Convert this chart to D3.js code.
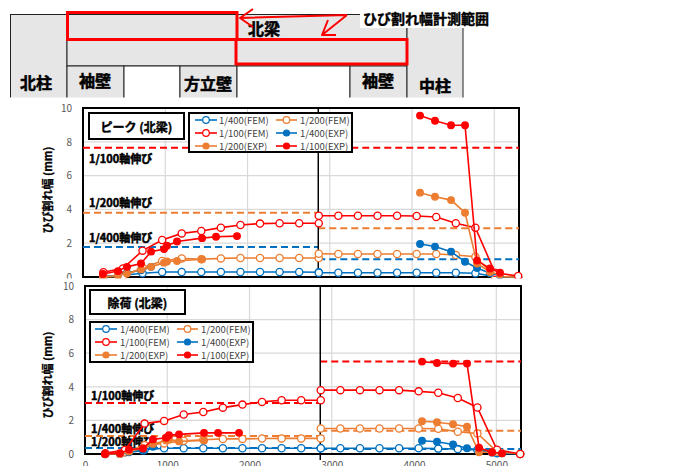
<!DOCTYPE html>
<html>
<head>
<meta charset="utf-8">
<script src="https://cdn.jsdelivr.net/npm/d3@7"></script>
<style>
  body { margin: 0; background: #fff; }
  svg { display: block; }
  text { font-family: "Noto Sans CJK JP", "Liberation Sans", sans-serif; }
</style>
</head>
<body>
<svg id="chart" width="700" height="466"></svg>
<script>
"use strict";

// Ejes
const xDomain = [0, 5300];
const xTicks = [0, 1000, 2000, 3000, 4000, 5000];
const yTicks = [0, 2, 4, 6, 8, 10];
const splitX = 2860;

// Series (orden de la leyenda)
const legendNames = ["1/400(FEM)", "1/200(FEM)", "1/100(FEM)", "1/400(EXP)", "1/200(EXP)", "1/100(EXP)"];
const seriesColors = ["#0070C0", "#ED7D31", "#FF0000", "#0070C0", "#ED7D31", "#FF0000"];
const seriesOpen = [true, true, true, false, false, false];

// Posiciones x (mm)
const xFemL = [248, 486, 724, 962, 1200, 1438, 1676, 1914, 2152, 2390, 2628, 2866];
const xFemR = [2866, 3104, 3342, 3580, 3818, 4056, 4294, 4532, 4770, 5008, 5290];
const xExpL = [243, 425, 535, 705, 827, 985, 1021, 1143, 1447, 1617, 1872];
const xExpR = [4097, 4279, 4474, 4644, 4790, 4948, 5069];

// ピーク
const peakFem400L = [0.02, 0.1, 0.22, 0.3, 0.3, 0.3, 0.3, 0.3, 0.3, 0.3, 0.3, 0.28];
const peakFem400R = [0.25, 0.25, 0.25, 0.25, 0.25, 0.25, 0.25, 0.25, 0.22, 0.02, 0.0];
const peakFem200L = [0.0, 0.05, 0.55, 0.95, 1.1, 1.05, 1.1, 1.12, 1.12, 1.12, 1.12, 1.12];
const peakFem200R = [1.38, 1.36, 1.36, 1.36, 1.36, 1.36, 1.36, 1.3, 1.2, 0.02, 0.0];
const peakFem100L = [0.28, 0.51, 1.56, 2.19, 2.58, 2.72, 2.92, 3.08, 3.16, 3.18, 3.18, 3.18];
const peakFem100R = [3.62, 3.62, 3.62, 3.62, 3.62, 3.61, 3.55, 3.18, 2.92, 0.25, 0.06];
const peakExp400L = [0.0, 0.1, 0.25, 0.4, 0.6];
const peakExp400R = [1.95, 1.8, 1.5, 0.9, 0.53, 0.22, 0.1];
const peakExp200L = [0.0, 0.1, 0.2, 0.45, 0.6, 0.85, 0.92, 0.95, 1.05];
const peakExp200R = [4.99, 4.75, 4.55, 3.8, 0.8, 0.3, 0.15];
const peakExp100L = [0.18, 0.35, 0.6, 0.8, 1.5, 1.65, 1.85, 2.1, 2.3, 2.38, 2.42];
const peakExp100R = [9.55, 9.25, 8.98, 8.98, 0.97, 0.5, 0.25];

// 除荷
const unloadFem400L = [0.0, 0.1, 0.25, 0.34, 0.34, 0.34, 0.34, 0.34, 0.34, 0.34, 0.34, 0.34];
const unloadFem400R = [0.34, 0.34, 0.34, 0.34, 0.34, 0.34, 0.32, 0.3, 0.24, 0.05, 0.0];
const unloadFem200L = [0.0, 0.1, 0.53, 0.63, 0.79, 0.85, 0.9, 0.9, 0.92, 0.93, 0.93, 0.93];
const unloadFem200R = [1.52, 1.52, 1.52, 1.52, 1.52, 1.52, 1.5, 1.32, 1.22, 0.14, 0.0];
const unloadFem100L = [0.05, 0.24, 1.81, 1.97, 2.35, 2.5, 2.76, 2.94, 3.1, 3.2, 3.2, 3.2];
const unloadFem100R = [3.8, 3.8, 3.8, 3.8, 3.8, 3.73, 3.65, 3.33, 2.77, 0.25, 0.0];
const unloadExp400L = [0.0, 0.0, 0.1, 0.2, 0.43];
const unloadExp400R = [0.79, 0.73, 0.57, 0.34, 0.24, 0.08, 0.04];
const unloadExp200L = [0.0, 0.0, 0.15, 0.35, 0.6, 0.8, 0.87, 0.75, 0.8];
const unloadExp200R = [1.95, 1.89, 1.77, 1.62, 0.1, 0.1, 0.05];
const unloadExp100L = [0.0, 0.05, 0.27, 0.33, 0.87, 0.97, 1.12, 1.17, 1.26, 1.26, 1.26];
const unloadExp100R = [5.5, 5.42, 5.38, 5.38, 0.37, 0.1, 0.04];

// 軸伸び (1/400, 1/200, 1/100)
const limitNames = ["1/400軸伸び", "1/200軸伸び", "1/100軸伸び"];
const limitColors = ["#0070C0", "#ED7D31", "#FF0000"];
const peakLimitL = [1.77, 3.8, 7.65];
const peakLimitR = [1.05, 2.88, 7.65];
const unloadLimitL = [0.35, 1.07, 3.04];
const unloadLimitR = [0.3, 1.38, 5.5];

const svg = d3.select("#chart");
const gray = "#e7e6e6";

//////////////////////////////////////////////////////////// cabecera (esquema)
const hdr = svg.append("g");
const cell = (x, y, w, h, fill) =>
  hdr.append("rect").attr("x", x).attr("y", y).attr("width", w).attr("height", h)
    .attr("fill", fill).attr("stroke", "#222").attr("stroke-width", 1);
const label = (x, y, t, size) =>
  hdr.append("text").attr("x", x).attr("y", y).attr("text-anchor", "middle")
    .attr("dominant-baseline", "central").attr("font-size", size).attr("font-weight", "bold")
    .attr("stroke", "#000").attr("stroke-width", 0.5).text(t);

cell(10.5, 14.5, 56.5, 90, gray);
cell(67, 14.5, 340, 51.5, gray);
cell(67, 66, 57, 40, gray);
cell(124, 66, 56, 40, "#fff");
cell(180, 66, 57, 40, gray);
cell(237, 66, 113, 40, "#fff");
cell(350, 66, 57, 40, gray);
cell(407, 14.5, 56, 90, gray);
hdr.append("rect").attr("x", 0).attr("y", 97.5).attr("width", 700).attr("height", 10).attr("fill", "#fff");

label(36, 82, "北柱", 16);
label(95, 80, "袖壁", 16);
label(208, 83, "方立壁", 16);
label(378, 80, "袖壁", 16);
label(435, 85, "中柱", 16);
label(264, 28, "北梁", 16);

// rectángulos rojos del rango de medición
hdr.append("rect").attr("x", 67.5).attr("y", 12.5).attr("width", 169.5).attr("height", 27)
  .attr("fill", "none").attr("stroke", "#FF0000").attr("stroke-width", 3);
hdr.append("rect").attr("x", 236).attr("y", 39.5).attr("width", 171).attr("height", 24.5)
  .attr("fill", "none").attr("stroke", "#FF0000").attr("stroke-width", 3);

hdr.append("rect").attr("x", 360).attr("y", 7).attr("width", 132).attr("height", 21).attr("fill", "#fff");
hdr.append("text").attr("x", 363).attr("y", 18).attr("dominant-baseline", "central")
  .attr("font-size", 14).attr("font-weight", "bold").attr("stroke", "#000").attr("stroke-width", 0.4)
  .text("ひび割れ幅計測範囲");

// flechas
const arrow = "M347,15 L240,18 M253,9 L240,18 L253,27 M347,15 L322,35 M328,20 L322,35 L336,35";
hdr.append("path").attr("d", arrow).attr("fill", "none").attr("stroke", "#FF0000")
  .attr("stroke-width", 2).attr("stroke-linejoin", "round");

//////////////////////////////////////////////////////////// gráficos
const pts = (xs, ys) => ys.map((v, i) => [xs[i], v]);

function panel(p) {
  const g = svg.append("g");
  if (p.cover != null) {
    g.append("rect").attr("x", 0).attr("y", p.cover).attr("width", 560)
      .attr("height", 466 - p.cover).attr("fill", "#fff");
  }
  const x = d3.scaleLinear().domain(xDomain).range([p.left, p.right]);
  const y = d3.scaleLinear().domain([0, 10]).range([p.bottom, p.top]);

  // rejilla
  g.append("g").selectAll("line").data(yTicks.slice(1, -1)).join("line")
    .attr("x1", p.left).attr("x2", p.right)
    .attr("y1", (d) => y(d)).attr("y2", (d) => y(d))
    .attr("stroke", "#d9d9d9").attr("stroke-width", 1.2);
  g.append("g").selectAll("line").data(xTicks.slice(1)).join("line")
    .attr("x1", (d) => x(d)).attr("x2", (d) => x(d))
    .attr("y1", p.top).attr("y2", p.bottom)
    .attr("stroke", "#d9d9d9").attr("stroke-width", 1.2);

  // eje Y
  const ya = g.append("g").attr("transform", `translate(${p.left},0)`)
    .call(d3.axisLeft(y).tickValues(yTicks).tickSize(0).tickPadding(11));
  ya.select(".domain").remove();
  ya.selectAll("text").attr("fill", "#595959").attr("font-size", 10)
    .attr("font-family", "Liberation Sans, Arial, sans-serif");

  // eje X
  if (p.xLabels) {
    const xa = g.append("g").attr("transform", `translate(0,${p.bottom})`)
      .call(d3.axisBottom(x).tickValues(xTicks).tickFormat(d3.format("d")).tickSize(0).tickPadding(8));
    xa.select(".domain").remove();
    xa.selectAll("text").attr("fill", "#595959").attr("font-size", 10)
      .attr("font-family", "Liberation Sans, Arial, sans-serif");
  }

  // título del eje
  g.append("text")
    .attr("transform", `translate(47,${p.titleY}) rotate(-90)`)
    .attr("text-anchor", "middle").attr("dominant-baseline", "central")
    .attr("font-size", 11).attr("font-weight", "bold").attr("stroke", "#000").attr("stroke-width", 0.3)
    .text("ひび割れ幅 (mm)");

  // borde del área
  g.append("rect").attr("x", p.left).attr("y", p.top)
    .attr("width", p.right - p.left).attr("height", p.bottom - p.top)
    .attr("fill", "none").attr("stroke", "#000").attr("stroke-width", 2);

  // líneas de 軸伸び
  p.limL.forEach((v, i) => {
    g.append("line").attr("x1", x(0)).attr("x2", x(splitX)).attr("y1", y(v)).attr("y2", y(v))
      .attr("stroke", limitColors[i]).attr("stroke-width", 2).attr("stroke-dasharray", "7,4");
  });
  p.limR.forEach((v, i) => {
    g.append("line").attr("x1", x(splitX)).attr("x2", x(xDomain[1])).attr("y1", y(v)).attr("y2", y(v))
      .attr("stroke", limitColors[i]).attr("stroke-width", 2).attr("stroke-dasharray", "7,4");
  });
  limitNames.forEach((t, i) => {
    g.append("text").attr("x", p.left + 6).attr("y", p.limLabelY[i])
      .attr("dominant-baseline", "central").attr("font-size", 11).attr("font-weight", "bold")
      .attr("stroke", "#000").attr("stroke-width", 0.5).text(t);
  });

  // línea vertical negra
  g.append("line").attr("x1", x(splitX)).attr("x2", x(splitX))
    .attr("y1", p.top).attr("y2", p.vEnd).attr("stroke", "#000").attr("stroke-width", 1.5);

  // series
  const line = d3.line().x((d) => x(d[0])).y((d) => y(d[1]));
  p.series.forEach((s, i) => {
    const segs = [pts(s[0], s[1]), pts(s[2], s[3])];
    segs.forEach((seg) => {
      g.append("path").datum(seg).attr("d", line).attr("fill", "none")
        .attr("stroke", seriesColors[i]).attr("stroke-width", 1.6);
      g.append("g").selectAll("circle").data(seg).join("circle")
        .attr("cx", (d) => x(d[0])).attr("cy", (d) => y(d[1]))
        .attr("r", seriesOpen[i] ? 3.6 : 3.3)
        .attr("fill", seriesOpen[i] ? "#fff" : seriesColors[i])
        .attr("stroke", seriesColors[i]).attr("stroke-width", 1.3);
    });
  });

  // caja de título
  const tb = p.titleBox;
  g.append("rect").attr("x", tb[0]).attr("y", tb[1]).attr("width", tb[2]).attr("height", tb[3])
    .attr("fill", "#fff").attr("stroke", "#000").attr("stroke-width", 2);
  g.append("text").attr("x", tb[0] + tb[2] / 2).attr("y", tb[1] + tb[3] / 2)
    .attr("text-anchor", "middle").attr("dominant-baseline", "central")
    .attr("font-size", 12).attr("font-weight", "bold").attr("stroke", "#000").attr("stroke-width", 0.4)
    .text(p.title);

  // leyenda
  const lb = p.legend;
  g.append("rect").attr("x", lb.box[0]).attr("y", lb.box[1]).attr("width", lb.box[2]).attr("height", lb.box[3])
    .attr("fill", "#fff").attr("stroke", "#000").attr("stroke-width", 2);
  legendNames.forEach((name, i) => {
    const col = i % 2, row = Math.floor(i / 2);
    const [sx0, sx1, tx] = lb.cols[col];
    const ly = lb.rows[row];
    g.append("line").attr("x1", sx0).attr("x2", sx1).attr("y1", ly).attr("y2", ly)
      .attr("stroke", seriesColors[i]).attr("stroke-width", 1.6);
    g.append("circle").attr("cx", (sx0 + sx1) / 2).attr("cy", ly)
      .attr("r", seriesOpen[i] ? 3.3 : 3)
      .attr("fill", seriesOpen[i] ? "#fff" : seriesColors[i])
      .attr("stroke", seriesColors[i]).attr("stroke-width", 1.2);
    g.append("text").attr("x", tx).attr("y", ly).attr("dominant-baseline", "central")
      .attr("font-size", 9.5).attr("fill", "#404040")
      .attr("font-family", "Liberation Sans, Arial, sans-serif").text(name);
  });
}

panel({
  left: 83, right: 519, top: 108, bottom: 277, vEnd: 277, titleY: 190,
  title: "ピーク (北梁)", titleBox: [89, 113, 95, 26],
  legend: { box: [189, 113, 163, 39], rows: [120, 133, 146], cols: [[195, 217, 219], [276, 297, 300]] },
  limL: peakLimitL, limR: peakLimitR, limLabelY: [237, 202, 158],
  series: [
    [xFemL, peakFem400L, xFemR, peakFem400R],
    [xFemL, peakFem200L, xFemR, peakFem200R],
    [xFemL, peakFem100L, xFemR, peakFem100R],
    [xExpL, peakExp400L, xExpR, peakExp400R],
    [xExpL, peakExp200L, xExpR, peakExp200R],
    [xExpL, peakExp100L, xExpR, peakExp100R],
  ],
});

panel({
  cover: 278.5,
  left: 85, right: 521, top: 286, bottom: 454, vEnd: 460, titleY: 375, xLabels: true,
  title: "除荷 (北梁)", titleBox: [90, 290, 95, 24],
  legend: { box: [90, 322, 163, 40], rows: [329, 342, 355], cols: [[95, 117, 120], [177, 198, 201]] },
  limL: unloadLimitL, limR: unloadLimitR, limLabelY: [428, 441, 395],
  series: [
    [xFemL, unloadFem400L, xFemR, unloadFem400R],
    [xFemL, unloadFem200L, xFemR, unloadFem200R],
    [xFemL, unloadFem100L, xFemR, unloadFem100R],
    [xExpL, unloadExp400L, xExpR, unloadExp400R],
    [xExpL, unloadExp200L, xExpR, unloadExp200R],
    [xExpL, unloadExp100L, xExpR, unloadExp100R],
  ],
});
</script>
</body>
</html>
